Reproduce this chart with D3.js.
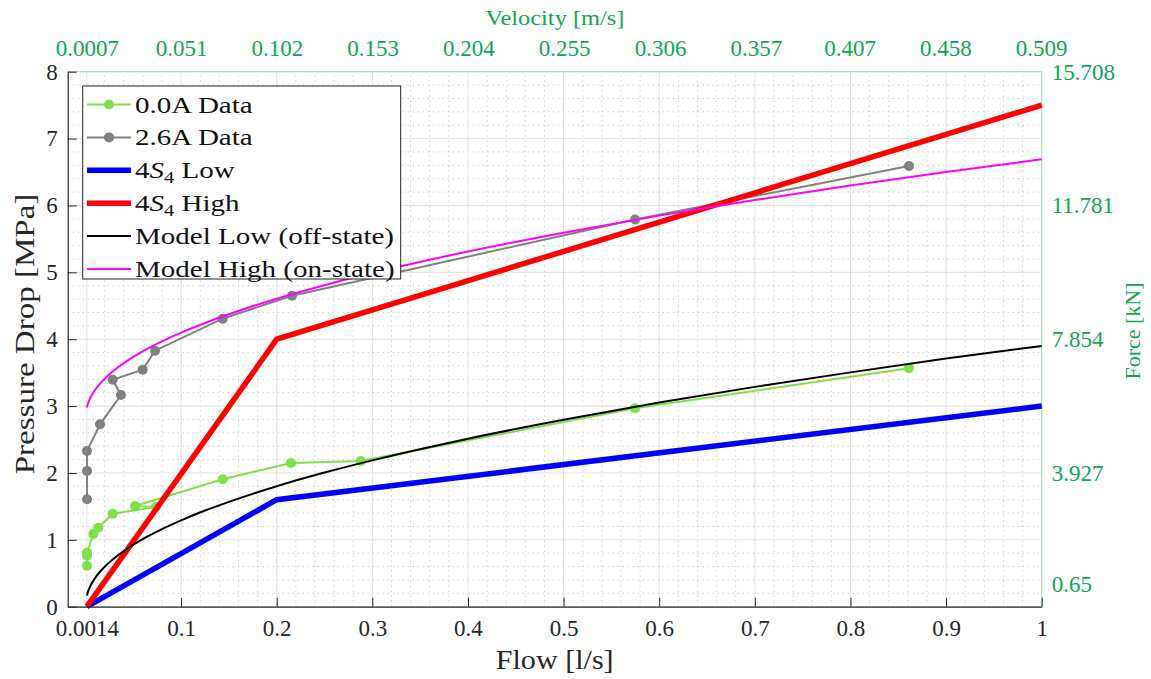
<!DOCTYPE html>
<html><head><meta charset="utf-8">
<script src="https://cdn.jsdelivr.net/npm/d3@7"></script>
<style>
body{margin:0;background:#fff;}
svg{display:block;}
text{font-family:"Liberation Serif","Times New Roman",serif;}
</style>
</head><body>
<svg id="chart" width="1151" height="679"></svg>
<script>
// ---------- tick labels ----------
const flowTicks = [0.0014, 0.1, 0.2, 0.3, 0.4, 0.5, 0.6, 0.7, 0.8, 0.9, 1];
const flowTickLabels = ["0.0014", "0.1", "0.2", "0.3", "0.4", "0.5", "0.6", "0.7", "0.8", "0.9", "1"];
const pressureTicks = [0, 1, 2, 3, 4, 5, 6, 7, 8];
const velocityTicks = [0.0007, 0.051, 0.102, 0.153, 0.204, 0.255, 0.306, 0.357, 0.407, 0.458, 0.509];
const velocityTickLabels = ["0.0007", "0.051", "0.102", "0.153", "0.204", "0.255", "0.306", "0.357", "0.407", "0.458", "0.509"];
const forceTicks = [0.65, 3.927, 7.854, 11.781, 15.708];
const forceTickLabels = ["0.65", "3.927", "7.854", "11.781", "15.708"];

// ---------- series ----------
const legendNames = ["0.0A Data", "2.6A Data", "4S4 Low", "4S4 High", "Model Low (off-state)", "Model High (on-state)"];

const data00Flow = [0.0016, 0.0016, 0.0016, 0.0082, 0.0134, 0.0284, 0.0737, 0.0518, 0.1435, 0.2149, 0.2881, 0.5747, 0.8612];
const data00Pressure = [0.613, 0.763, 0.807, 1.087, 1.181, 1.391, 1.49, 1.506, 1.905, 2.149, 2.179, 2.967, 3.565];

const data26Flow = [0.0016, 0.0016, 0.0016, 0.0152, 0.0371, 0.0284, 0.0598, 0.0727, 0.1435, 0.2160, 0.5747, 0.8612];
const data26Pressure = [1.606, 2.029, 2.328, 2.727, 3.166, 3.394, 3.543, 3.828, 4.307, 4.650, 5.790, 6.590];

const s4LowFlow = [0.0014, 0.2, 1];
const s4LowPressure = [0, 1.6, 3.0];
const s4HighFlow = [0.0014, 0.2, 1];
const s4HighPressure = [0, 4.0, 7.5];

const modelFlow = [0.0014, 0.003, 0.005, 0.0075, 0.01, 0.015, 0.02, 0.03, 0.04, 0.05, 0.065, 0.08, 0.1, 0.125, 0.15, 0.2, 0.25, 0.3, 0.4, 0.5, 0.6, 0.7, 0.8, 0.9, 1.0];
const modelLowPressure = [0.167, 0.240, 0.307, 0.372, 0.428, 0.519, 0.596, 0.725, 0.832, 0.926, 1.050, 1.161, 1.292, 1.438, 1.568, 1.802, 2.006, 2.188, 2.512, 2.795, 3.053, 3.287, 3.504, 3.710, 3.900];
const modelHighPressure = [2.980, 3.053, 3.120, 3.185, 3.240, 3.331, 3.407, 3.535, 3.642, 3.735, 3.859, 3.968, 4.098, 4.243, 4.373, 4.606, 4.808, 4.989, 5.311, 5.592, 5.848, 6.081, 6.297, 6.501, 6.690];

// ---------- layout ----------
const L = 67.7, R = 1041.7, T = 71.7, B = 606.7;
const velocityPerFlow = 0.5093, forcePerPressure = 1.9635;
const axisCol = "#262626", secCol = "#0fa650", boxSec = "#a8dcbc";

const x = d3.scaleLinear().domain([-0.0186, 1]).range([L, R]);
const y = d3.scaleLinear().domain([0, 8]).range([B, T]);
const xv = d3.scaleLinear().domain([-0.0186 * velocityPerFlow, velocityPerFlow]).range([L, R]);
const yf = d3.scaleLinear().domain([0, 8 * forcePerPressure]).range([B, T]);

const svg = d3.select("#chart");

// minor grid
const xMinor = d3.range(0, 1.0001, 0.02).filter(v => flowTicks.every(t => Math.abs(t - v) > 0.005));
const yMinor = d3.range(0, 8.0001, 0.2).filter(v => Math.abs(v - Math.round(v)) > 0.01);
const grid = svg.append("g");
grid.selectAll(".mx").data(xMinor).join("line")
  .attr("x1", d => x(d)).attr("x2", d => x(d)).attr("y1", B).attr("y2", T)
  .attr("stroke", "#c4c4c4").attr("stroke-width", 1).attr("stroke-dasharray", "1.2,3.8");
grid.selectAll(".my").data(yMinor).join("line")
  .attr("y1", d => y(d)).attr("y2", d => y(d)).attr("x1", L).attr("x2", R)
  .attr("stroke", "#c4c4c4").attr("stroke-width", 1).attr("stroke-dasharray", "1.2,3.8");
// major grid
grid.selectAll(".Mx").data(flowTicks).join("line")
  .attr("x1", d => x(d)).attr("x2", d => x(d)).attr("y1", B).attr("y2", T)
  .attr("stroke", "#e0e0e0").attr("stroke-width", 1);
grid.selectAll(".My").data(pressureTicks).join("line")
  .attr("y1", d => y(d)).attr("y2", d => y(d)).attr("x1", L).attr("x2", R)
  .attr("stroke", "#e0e0e0").attr("stroke-width", 1);

// box edges (secondary)
svg.append("line").attr("x1", L).attr("x2", R).attr("y1", T).attr("y2", T).attr("stroke", boxSec).attr("stroke-width", 1);
svg.append("line").attr("x1", R).attr("x2", R).attr("y1", T).attr("y2", B).attr("stroke", boxSec).attr("stroke-width", 1);

// ---------- series drawing ----------
const zip = (a, b) => a.map((v, i) => [v, b[i]]);
const line = d3.line().x(d => x(d[0])).y(d => y(d[1]));
const smooth = d3.line().x(d => x(d[0])).y(d => y(d[1])).curve(d3.curveMonotoneX);
const plot = svg.append("g");

const d00 = zip(data00Flow, data00Pressure);
const d26 = zip(data26Flow, data26Pressure);

plot.append("path").datum(d00).attr("d", line).attr("fill", "none").attr("stroke", "#7fe04c").attr("stroke-width", 2);
plot.selectAll(".p00").data(d00).join("circle").attr("cx", d => x(d[0])).attr("cy", d => y(d[1])).attr("r", 5).attr("fill", "#7fe04c");
plot.append("path").datum(d26).attr("d", line).attr("fill", "none").attr("stroke", "#808080").attr("stroke-width", 2);
plot.selectAll(".p26").data(d26).join("circle").attr("cx", d => x(d[0])).attr("cy", d => y(d[1])).attr("r", 5).attr("fill", "#808080");
plot.append("path").datum(zip(s4LowFlow, s4LowPressure)).attr("d", line).attr("fill", "none").attr("stroke", "#0000ff").attr("stroke-width", 5.5);
plot.append("path").datum(zip(s4HighFlow, s4HighPressure)).attr("d", line).attr("fill", "none").attr("stroke", "#ff0000").attr("stroke-width", 5.5);
plot.append("path").datum(zip(modelFlow, modelLowPressure)).attr("d", smooth).attr("fill", "none").attr("stroke", "#000000").attr("stroke-width", 2);
plot.append("path").datum(zip(modelFlow, modelHighPressure)).attr("d", smooth).attr("fill", "none").attr("stroke", "#ff00ff").attr("stroke-width", 2);

// ---------- axes ----------
const xAxis = d3.axisBottom(x).tickValues(flowTicks).tickFormat((d, i) => flowTickLabels[i]).tickSizeInner(-9).tickSizeOuter(0).tickPadding(13);
const gx = svg.append("g").attr("transform", `translate(0,${B})`).call(xAxis);
const yAxis = d3.axisLeft(y).tickValues(pressureTicks).tickFormat(d3.format("d")).tickSizeInner(-9).tickSizeOuter(0).tickPadding(10);
const gy = svg.append("g").attr("transform", `translate(${L},0)`).call(yAxis);
[gx, gy].forEach(g => {
  g.select(".domain").attr("stroke", axisCol).attr("stroke-width", 1.2);
  g.selectAll(".tick line").attr("stroke", axisCol).attr("stroke-width", 1);
  g.selectAll(".tick text").attr("fill", axisCol).attr("font-size", 23).attr("font-family", "Liberation Serif, serif");
});
gx.selectAll(".tick").filter(d => d === 0.0014).select("line").remove();

const topAxis = d3.axisTop(xv).tickValues(velocityTicks).tickFormat((d, i) => velocityTickLabels[i]).tickSize(0).tickPadding(16);
const gt = svg.append("g").attr("transform", `translate(0,${T})`).call(topAxis);
const rightAxis = d3.axisRight(yf).tickValues(forceTicks).tickFormat((d, i) => forceTickLabels[i]).tickSize(0).tickPadding(10);
const gr = svg.append("g").attr("transform", `translate(${R},0)`).call(rightAxis);
[gt, gr].forEach(g => {
  g.select(".domain").remove();
  g.selectAll(".tick text").attr("fill", secCol).attr("font-size", 23).attr("font-family", "Liberation Serif, serif");
});

// axis titles
function title(txt, tx, ty, rot, size, sx, col) {
  svg.append("text").attr("transform", `translate(${tx},${ty}) rotate(${rot}) scale(${sx},1)`)
    .attr("text-anchor", "middle").attr("font-size", size).attr("fill", col).text(txt);
}
title("Flow [l/s]", 554.7, 669, 0, 27, 1.115, axisCol);
title("Pressure Drop [MPa]", 34, 334, -90, 28, 1.18, axisCol);
title("Velocity [m/s]", 555, 25, 0, 22, 1.11, secCol);
title("Force [kN]", 1140, 331, -90, 22, 1.0, secCol);

// ---------- legend ----------
const lg = svg.append("g");
lg.append("rect").attr("x", 82.7).attr("y", 86).attr("width", 318).attr("height", 193)
  .attr("fill", "#fff").attr("stroke", axisCol).attr("stroke-width", 1);
const legendStyle = [
  {c: "#7fe04c", w: 2, m: true}, {c: "#808080", w: 2, m: true},
  {c: "#0000ff", w: 5.5, m: false}, {c: "#ff0000", w: 5.5, m: false},
  {c: "#000000", w: 2, m: false}, {c: "#ff00ff", w: 2, m: false}
];
legendNames.forEach((name, i) => {
  const ry = 104.5 + i * 32.9;
  const st = legendStyle[i];
  lg.append("line").attr("x1", 87).attr("x2", 131).attr("y1", ry).attr("y2", ry).attr("stroke", st.c).attr("stroke-width", st.w);
  if (st.m) lg.append("circle").attr("cx", 109).attr("cy", ry).attr("r", 5).attr("fill", st.c);
  const t = lg.append("text").attr("transform", `translate(135,${ry + 8}) scale(1.21,1)`)
    .attr("font-size", 24).attr("fill", "#111");
  if (name.startsWith("4S4")) {
    t.append("tspan").text("4");
    t.append("tspan").attr("font-style", "italic").text("S");
    t.append("tspan").attr("font-size", 17).attr("dy", 5).text("4");
    t.append("tspan").attr("dy", -5).text(name.slice(3));
  } else {
    t.text(name);
  }
});
</script>
</body></html>
